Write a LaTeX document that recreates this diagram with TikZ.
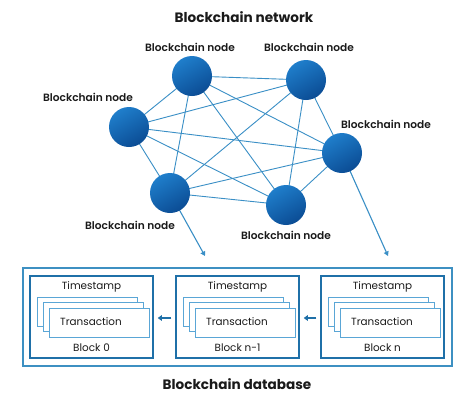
\documentclass[tikz,border=0pt]{standalone}
\usepackage{fontspec}
\setmainfont{Poppins}
\newfontfamily\semib{Poppins SemiBold}
\usetikzlibrary{arrows.meta}
\definecolor{edgeblue}{HTML}{3A8FC6}
\definecolor{boxblue}{HTML}{1F70A8}
\definecolor{outerblue}{HTML}{3D90C2}
\definecolor{txblue}{HTML}{5AA6D6}
\definecolor{ballhi}{HTML}{1F7ECB}
\definecolor{balllo}{HTML}{0B4C94}
\definecolor{txtcol}{HTML}{1A1A1A}
\tikzset{
  ball/.style={circle, minimum size=40, inner sep=0, shading=axis, top color=ballhi, bottom color=balllo, shading angle=30},
  edge/.style={draw=edgeblue, line width=0.9},
  lbl/.style={font=\semib\fontsize{10.6}{12}\selectfont, text=txtcol, inner sep=0},
  ttl/.style={font=\bfseries\fontsize{13.6}{15}\selectfont, text=txtcol, inner sep=0},
  blockbox/.style={draw=boxblue, line width=1.5, minimum width=123, minimum height=82, inner sep=0},
  outerbox/.style={draw=outerblue, line width=1.2, minimum width=429, minimum height=98, inner sep=0},
  txbox/.style={draw=txblue, line width=0.8, fill=white, minimum width=100, minimum height=29, inner sep=0},
  btxt/.style={font=\fontsize{10.4}{12}\selectfont, text=txtcol, inner sep=0},
  arr/.style={draw=edgeblue, line width=1.1, -{Triangle[length=4.5,width=5]}},
  barr/.style={draw=boxblue, line width=1.6, -{Triangle[length=4,width=5.5]}}
}
\begin{document}
\begin{tikzpicture}[x=1pt,y=-1pt]
\useasboundingbox (0,0) rectangle (474,402);
\fill[white] (0,0) rectangle (474,402);
\node[ttl] (title) at (244,17) {Blockchain network};
% network nodes
\coordinate (p1) at (192,76);
\coordinate (p2) at (306,80);
\coordinate (p3) at (129,127);
\coordinate (p4) at (342,153);
\coordinate (p5) at (170,193);
\coordinate (p6) at (286,205);
\foreach \a/\b in {p1/p2,p1/p3,p1/p4,p1/p5,p1/p6,p2/p3,p2/p4,p2/p5,p2/p6,p3/p4,p3/p5,p3/p6,p4/p5,p4/p6,p5/p6}
  \draw[edge] (\a) -- (\b);
\coordinate (a1) at (205,256);
\coordinate (a2) at (388,256);
\draw[arr] (p5) -- (a1);
\draw[arr] (p4) -- (a2);
\node[ball] (n1) at (p1) {};
\node[ball] (n2) at (p2) {};
\node[ball] (n3) at (p3) {};
\node[ball] (n4) at (p4) {};
\node[ball] (n5) at (p5) {};
\node[ball] (n6) at (p6) {};
\node[lbl] (l1) at (190,47) {Blockchain node};
\node[lbl] (l2) at (309,47) {Blockchain node};
\node[lbl] (l3) at (88,97) {Blockchain node};
\node[lbl] (l4) at (386,124) {Blockchain node};
\node[lbl] (l5) at (130,225) {Blockchain node};
\node[lbl] (l6) at (286,235) {Blockchain node};
% database
\node[outerbox] (db) at (237.5,317) {};
\foreach \x/\nm/\lab in {30/b0/Block 0,176/b1/Block n-1,321/b2/Block n}{
  \node[blockbox] (\nm) at (\x+61.5,317) {};
  \node[btxt] (\nm ts) at (\x+61.5,287) {Timestamp};
  \node[txbox] (\nm ta) at (\x+57,311.5) {};
  \node[txbox] (\nm tb) at (\x+63,317) {};
  \node[txbox] (\nm tc) at (\x+69.5,322.5) {};
  \node[btxt] (\nm tx) at (\x+61,322) {Transaction};
  \node[btxt] (\nm bl) at (\x+61.5,348) {\lab};
}
\draw[barr] ([xshift=-4,yshift=-1]b1.west) -- ([xshift=4,yshift=-1]b0.east);
\draw[barr] ([xshift=-4,yshift=-1]b2.west) -- ([xshift=4,yshift=-1]b1.east);
\node[ttl] (dbt) at (237,384) {Blockchain database};
\end{tikzpicture}
\end{document}
